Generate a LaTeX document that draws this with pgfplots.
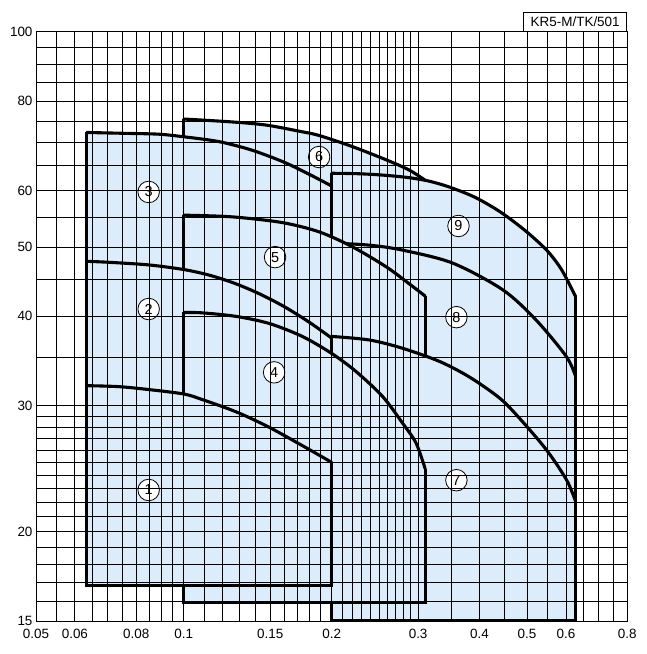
\documentclass[border=0pt]{standalone}
\usepackage{fontspec}
\setmainfont{Liberation Sans}
\usepackage{pgfplots}
\pgfplotsset{compat=1.18}
\definecolor{regfill}{RGB}{221,236,250}
\begin{document}
\begin{tikzpicture}
\begin{axis}[name=ax, set layers, axis on top,
 scale only axis, width=591.3bp, height=589.3bp,
 xmode=log, ymode=log, xmin=0.05, xmax=0.8, ymin=15, ymax=100,
 xtick={0.05,0.06,0.08,0.1,0.15,0.2,0.3,0.4,0.5,0.6,0.8},
 xticklabels={0.05,0.06,0.08,0.1,0.15,0.2,0.3,0.4,0.5,0.6,0.8},
 minor xtick={0.055,0.065,0.07,0.075,0.085,0.09,0.095,0.11,0.12,0.13,0.14,0.16,0.17,0.18,0.19,0.21,0.22,0.23,0.24,0.25,0.26,0.27,0.28,0.29,0.35,0.45,0.55,0.65,0.7,0.75},
 ytick={15,20,30,40,50,60,80,100},
 yticklabels={15,20,30,40,50,60,80,100},
 minor ytick={16,17,18,19,21,22,23,24,25,26,27,28,29,35,45,55,65,70,75,85,90,95},
 grid=both,
 major grid style={black, line width=0.8bp},
 minor grid style={black, line width=0.8bp},
 major tick length=0pt, minor tick length=0pt,
 axis line style={black, line width=0.9bp},
 tick label style={font=\fontsize{13.5}{16}\selectfont},
 xticklabel style={yshift=-5bp},
 rf/.style={fill=regfill, draw=none, mark=none},
 re/.style={draw=black, line width=3.1bp, mark=none, line join=miter},
 rc/.style={draw=black, line width=3.1bp, mark=none, smooth, tension=0.5, line cap=round},
]
% ---------- shape 6
\addplot[rf] coordinates {(0.1,15.9) (0.1,75.5) (0.1253,74.8) (0.147,74.05) (0.1717,72.6) (0.1886,71.6) (0.2202,69.1) (0.2584,66.2) (0.2879,64.05) (0.31,62.0) (0.31,15.9)} -- cycle;
\addplot[re] coordinates {(0.31,62.0) (0.31,15.9) (0.1,15.9) (0.1,75.5)};
\addplot[rc] coordinates {(0.1,75.5) (0.1253,74.8) (0.147,74.05) (0.1717,72.6) (0.1886,71.6) (0.2202,69.1) (0.2584,66.2) (0.2879,64.05) (0.31,62.0)};
% ---------- shape 9
\addplot[rf] coordinates {(0.2,15) (0.2,63.4) (0.2276,63.3) (0.2561,63.0) (0.2879,62.5) (0.3162,61.8) (0.3474,60.65) (0.3907,58.73) (0.4395,56.07) (0.4942,52.8) (0.5481,49.5) (0.5882,46.45) (0.628,42.6) (0.628,15)} -- cycle;
\addplot[re] coordinates {(0.628,42.6) (0.628,15) (0.2,15) (0.2,63.4)};
\addplot[rc] coordinates {(0.2,63.4) (0.2276,63.3) (0.2561,63.0) (0.2879,62.5) (0.3162,61.8) (0.3474,60.65) (0.3907,58.73) (0.4395,56.07) (0.4942,52.8) (0.5481,49.5) (0.5882,46.45) (0.628,42.6)};
% ---------- shape 8
\addplot[rf] coordinates {(0.2,15) (0.2,50.65) (0.2386,50.3) (0.279,49.5) (0.353,47.47) (0.4465,43.55) (0.5222,39.5) (0.6014,35.13) (0.628,32.95) (0.628,15)} -- cycle;
\addplot[re] coordinates {(0.628,32.95) (0.628,15) (0.2,15) (0.2,50.65)};
\addplot[rc] coordinates {(0.2,50.65) (0.2386,50.3) (0.279,49.5) (0.353,47.47) (0.4465,43.55) (0.5222,39.5) (0.6014,35.13) (0.628,32.95)};
% ---------- shape 3
\addplot[rf] coordinates {(0.0634,16.8) (0.0634,72.3) (0.0761,72.1) (0.0889,71.9) (0.1,71.3) (0.1179,70.2) (0.1376,68.3) (0.16,65.7) (0.1816,63.0) (0.2,60.85) (0.2,16.8)} -- cycle;
\addplot[re] coordinates {(0.2,60.85) (0.2,16.8) (0.0634,16.8) (0.0634,72.3)};
\addplot[rc] coordinates {(0.0634,72.3) (0.0761,72.1) (0.0889,71.9) (0.1,71.3) (0.1179,70.2) (0.1376,68.3) (0.16,65.7) (0.1816,63.0) (0.2,60.85)};
% ---------- shape 5
\addplot[rf] coordinates {(0.1,15.9) (0.1,55.4) (0.1253,55.1) (0.1585,54.1) (0.1886,52.5) (0.2202,50.05) (0.2584,46.9) (0.2879,44.4) (0.31,42.7) (0.31,15.9)} -- cycle;
\addplot[re] coordinates {(0.31,42.7) (0.31,15.9) (0.1,15.9) (0.1,55.4)};
\addplot[rc] coordinates {(0.1,55.4) (0.1253,55.1) (0.1585,54.1) (0.1886,52.5) (0.2202,50.05) (0.2584,46.9) (0.2879,44.4) (0.31,42.7)};
% ---------- shape 2
\addplot[rf] coordinates {(0.0634,16.8) (0.0634,47.75) (0.0703,47.6) (0.0848,47.2) (0.1,46.5) (0.1125,45.68) (0.1265,44.52) (0.1423,43.03) (0.16,41.28) (0.1799,39.27) (0.2,37.3) (0.2,16.8)} -- cycle;
\addplot[re] coordinates {(0.2,37.3) (0.2,16.8) (0.0634,16.8) (0.0634,47.75)};
\addplot[rc] coordinates {(0.0634,47.75) (0.0703,47.6) (0.0848,47.2) (0.1,46.5) (0.1125,45.68) (0.1265,44.52) (0.1423,43.03) (0.16,41.28) (0.1799,39.27) (0.2,37.3)};
% ---------- shape 7
\addplot[rf] coordinates {(0.2,15) (0.2,37.5) (0.2386,37.07) (0.2786,36.1) (0.3315,34.6) (0.3817,32.9) (0.4395,30.75) (0.4828,28.8) (0.5481,26.0) (0.6022,23.6) (0.628,22.03) (0.628,15)} -- cycle;
\addplot[re] coordinates {(0.628,22.03) (0.628,15) (0.2,15) (0.2,37.5)};
\addplot[rc] coordinates {(0.2,37.5) (0.2386,37.07) (0.2786,36.1) (0.3315,34.6) (0.3817,32.9) (0.4395,30.75) (0.4828,28.8) (0.5481,26.0) (0.6022,23.6) (0.628,22.03)};
% ---------- shape 4
\addplot[rf] coordinates {(0.1,15.9) (0.1,40.5) (0.109,40.45) (0.1275,40.0) (0.1491,39.1) (0.1743,37.5) (0.2,35.5) (0.2241,33.5) (0.254,30.9) (0.279,28.35) (0.2971,26.6) (0.31,24.5) (0.31,15.9)} -- cycle;
\addplot[re] coordinates {(0.31,24.5) (0.31,15.9) (0.1,15.9) (0.1,40.5)};
\addplot[rc] coordinates {(0.1,40.5) (0.109,40.45) (0.1275,40.0) (0.1491,39.1) (0.1743,37.5) (0.2,35.5) (0.2241,33.5) (0.254,30.9) (0.279,28.35) (0.2971,26.6) (0.31,24.5)};
% ---------- shape 1
\addplot[rf] coordinates {(0.0634,16.8) (0.0634,32.0) (0.0737,31.9) (0.0848,31.6) (0.1,31.15) (0.109,30.6) (0.128,29.4) (0.149,28.0) (0.174,26.4) (0.2,25.0) (0.2,16.8)} -- cycle;
\addplot[re] coordinates {(0.2,25.0) (0.2,16.8) (0.0634,16.8) (0.0634,32.0)};
\addplot[rc] coordinates {(0.0634,32.0) (0.0737,31.9) (0.0848,31.6) (0.1,31.15) (0.109,30.6) (0.128,29.4) (0.149,28.0) (0.174,26.4) (0.2,25.0)};
% label anchors
\coordinate (L1) at (0.0848,22.87);
\coordinate (L2) at (0.0848,40.95);
\coordinate (L3) at (0.0848,59.7);
\coordinate (L4) at (0.1527,33.4);
\coordinate (L5) at (0.1534,48.4);
\coordinate (L6) at (0.1886,66.8);
\coordinate (L7) at (0.359,23.6);
\coordinate (L8) at (0.359,39.9);
\coordinate (L9) at (0.3625,53.5);
\end{axis}
\foreach \i in {1,...,9} {
  \node[circle, draw=black, fill=white, line width=0.8bp, minimum size=21.5bp, inner sep=0pt, font=\fontsize{14.5}{16}\selectfont] at (L\i) {\i};
}
\node[draw=black, line width=0.9bp, anchor=south east, inner sep=0pt, minimum height=19bp, minimum width=103.3bp, font=\fontsize{13.5}{16}\selectfont] at (ax.north east) {KR5-M/TK/501};
\pgfresetboundingbox
\path[use as bounding box] ([xshift=-36bp,yshift=-33bp]ax.south west) rectangle ([xshift=19.7bp,yshift=31.7bp]ax.north east);
\end{tikzpicture}
\end{document}
